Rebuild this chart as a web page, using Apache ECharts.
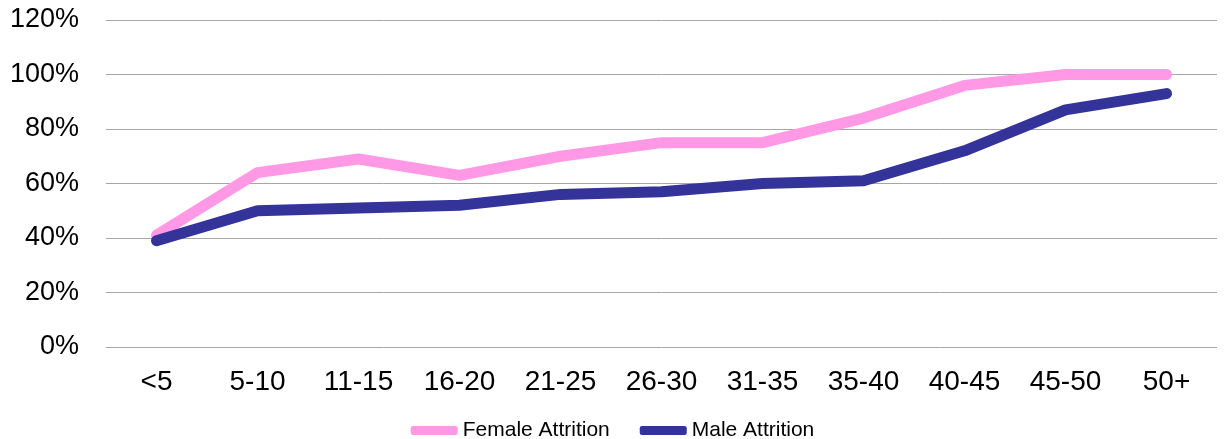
<!DOCTYPE html>
<html>
<head>
<meta charset="utf-8">
<script src="https://cdn.jsdelivr.net/npm/echarts@6/dist/echarts.min.js"></script>
<style>
    html, body {margin: 0; padding: 0; background: #fff;}
    #chart {width: 1225px; height: 439px;}
</style>
</head>
<body>
<div id="chart"></div>
<script>
var ageBands = ['<5', '5-10', '11-15', '16-20', '21-25', '26-30', '31-35', '35-40', '40-45', '45-50', '50+'];
var femaleAttrition = [41, 64, 69, 63, 70, 75, 75, 84, 96, 100, 100];
var maleAttrition = [39, 50, 51, 52, 56, 57, 60, 61, 72, 87, 93];
var yTicks = [0, 20, 40, 60, 80, 100, 120];

var font = 'Liberation Sans, Arial, sans-serif';

var myChart = echarts.init(document.getElementById('chart'));
myChart.setOption({
    animation: false,
    grid: {
        left: 106,
        right: 8,
        top: 20,
        bottom: 92
    },
    legend: {
        top: 415,
        left: 'center',
        itemGap: 30,
        itemWidth: 47,
        itemHeight: 9,
        icon: 'roundRect',
        textStyle: {fontFamily: font, fontSize: 21, color: '#000'},
        data: ['Female Attrition', 'Male Attrition']
    },
    xAxis: {
        type: 'category',
        boundaryGap: true,
        data: ageBands,
        axisLine: {show: false},
        axisTick: {show: false},
        axisLabel: {
            interval: 0,
            margin: 21,
            fontFamily: font,
            fontSize: 28,
            color: '#000'
        }
    },
    yAxis: {
        type: 'value',
        min: yTicks[0],
        max: yTicks[yTicks.length - 1],
        interval: 20,
        axisLine: {show: false},
        axisTick: {show: false},
        splitLine: {lineStyle: {color: '#a6a6a6', width: 1}},
        axisLabel: {
            margin: 27,
            formatter: '{value}%',
            fontFamily: font,
            fontSize: 27,
            color: '#000'
        }
    },
    series: [
        {
            name: 'Female Attrition',
            type: 'line',
            data: femaleAttrition,
            showSymbol: false,
            symbol: 'none',
            itemStyle: {color: '#ff99e6'},
            lineStyle: {color: '#ff99e6', width: 11, cap: 'round', join: 'round'}
        },
        {
            name: 'Male Attrition',
            type: 'line',
            data: maleAttrition,
            showSymbol: false,
            symbol: 'none',
            itemStyle: {color: '#333399'},
            lineStyle: {color: '#333399', width: 11, cap: 'round', join: 'round'}
        }
    ]
});
</script>
</body>
</html>
